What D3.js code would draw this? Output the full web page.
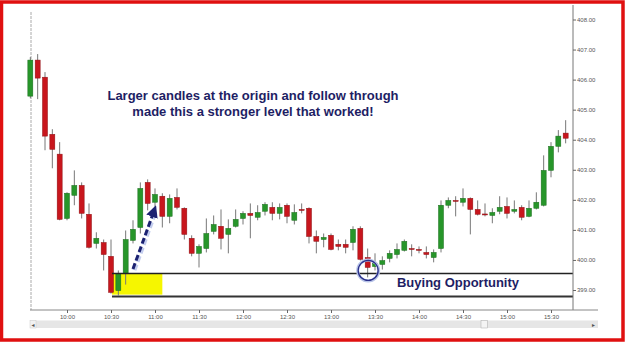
<!DOCTYPE html>
<html lang="en">
<head>
    <meta charset="UTF-8">
    <title>Buying Opportunity</title>
    <script src="https://d3js.org/d3.v7.min.js"></script>
    <style>
        body { margin: 0; background: white; }
        svg { display: block; font-family: "Liberation Sans", Arial, sans-serif; }
        .axis text { font-size: 6px; fill: #555; }
        .axis line { stroke: #666; }
        .note { font-weight: bold; font-size: 13px; fill: #1e1e64; }
    </style>
</head>
<body>
<svg id="chart" width="625" height="342"></svg>
<script>
    // 5 minute candles
    const times = ["09:35","09:40","09:45","09:50","09:55","10:00","10:05","10:10","10:15","10:20",
        "10:25","10:30","10:35","10:40","10:45","10:50","10:55","11:00","11:05","11:10",
        "11:15","11:20","11:25","11:30","11:35","11:40","11:45","11:50","11:55","12:00",
        "12:05","12:10","12:15","12:20","12:25","12:30","12:35","12:40","12:45","12:50",
        "12:55","13:00","13:05","13:10","13:15","13:20","13:25","13:30","13:35","13:40",
        "13:45","13:50","13:55","14:00","14:05","14:10","14:15","14:20","14:25","14:30",
        "14:35","14:40","14:45","14:50","14:55","15:00","15:05","15:10","15:15","15:20",
        "15:25","15:30","15:35","15:40"];
    const open = [405.45,406.65,406.08,404.18,403.52,401.38,402.15,402.48,401.52,400.55,
        400.58,400.12,398.98,399.55,400.65,401.08,402.58,401.92,402.12,401.45,
        402.08,401.72,400.72,400.22,400.38,400.95,401.12,400.85,401.12,401.38,
        401.55,401.42,401.62,401.75,401.55,401.82,401.32,401.68,401.72,400.78,
        400.68,400.82,400.52,400.52,400.58,401.05,400.08,399.78,399.85,400.05,
        400.18,400.32,400.38,400.35,400.25,400.08,400.38,401.82,401.98,401.92,
        402.05,401.68,401.53,401.48,401.62,401.78,401.62,401.75,401.45,401.72,
        401.82,402.98,403.78,404.22];
    const high = [406.75,406.85,406.25,404.35,403.92,402.25,402.98,402.58,401.88,400.92,
        400.68,400.68,399.65,400.98,401.32,402.58,402.68,402.38,402.22,402.18,
        402.38,401.75,400.82,400.52,401.38,401.48,401.68,401.35,401.68,401.62,
        401.88,401.82,401.92,401.92,401.88,401.88,401.85,401.88,401.75,400.98,
        400.88,400.88,400.68,400.68,401.12,401.12,400.38,400.22,400.12,400.32,
        400.55,400.68,400.52,400.45,400.45,400.35,401.98,402.08,402.12,402.38,
        402.08,401.98,401.88,401.72,402.12,402.08,401.98,401.82,401.98,402.25,
        403.48,403.92,404.32,404.65];
    const low = [405.38,405.35,403.65,403.05,401.32,401.32,401.82,401.38,400.38,400.38,
        399.65,398.88,398.82,399.18,400.55,400.88,401.65,401.48,401.08,401.22,
        401.68,400.68,400.12,399.75,400.25,400.85,400.35,400.22,401.08,401.18,
        400.72,401.32,401.48,401.32,401.35,401.22,401.18,401.55,400.55,400.22,
        400.42,400.32,400.32,400.22,400.32,399.98,399.42,399.65,399.68,399.92,
        400.05,400.28,400.12,400.22,400.05,399.92,400.25,401.72,401.45,401.78,
        400.85,401.48,401.45,401.22,401.52,401.38,401.55,401.32,401.42,401.68,
        401.78,402.75,403.58,403.88];
    const close = [406.65,406.05,404.12,403.68,401.35,402.22,402.48,401.55,400.42,400.72,
        400.18,398.92,399.55,400.68,401.02,402.38,401.88,402.18,401.45,402.05,
        401.75,400.85,400.22,400.45,400.88,401.18,400.72,401.05,401.35,401.55,
        401.48,401.58,401.85,401.55,401.75,401.45,401.58,401.65,400.78,400.62,
        400.75,400.35,400.45,400.42,401.02,400.02,399.75,399.88,399.98,400.22,
        400.35,400.62,400.37,400.33,400.18,400.25,401.82,401.98,401.95,402.05,
        401.68,401.52,401.52,401.58,401.75,401.55,401.68,401.42,401.72,401.92,
        402.98,403.78,404.12,404.05];

    const priceTicks = [399, 400, 401, 402, 403, 404, 405, 406, 407, 408];
    const timeTicks = ["10:00","10:30","11:00","11:30","12:00","12:30","13:00","13:30","14:00","14:30","15:00","15:30"];

    // support zone
    const zoneTop = 399.55, zoneBottom = 398.78;
    const zoneStart = "10:30", boxEnd = "11:05";
    const circleAt = "13:25";

    const parse = d3.timeParse("%H:%M");
    const data = times.map((t, i) => ({t: parse(t), o: open[i], h: high[i], l: low[i], c: close[i]}));

    const svg = d3.select("#chart");
    const x = d3.scaleTime().domain([parse("09:30"), parse("15:45")]).range([23, 573]);
    const y = d3.scaleLinear().domain([399, 408]).range([290, 19.5]);
    const right = 573, bottom = 310;

    // red frame
    svg.append("rect").attr("x", 1.5).attr("y", 2).attr("width", 621.5).attr("height", 338)
        .attr("fill", "white").attr("stroke", "#e01010").attr("stroke-width", 3.5);

    // day separator
    svg.append("line").attr("x1", 31).attr("x2", 31).attr("y1", 12).attr("y2", bottom)
        .attr("stroke", "#aaa").attr("stroke-dasharray", "3,1");

    // yellow box and level lines
    svg.append("rect")
        .attr("x", x(parse(zoneStart)) + 1).attr("y", y(zoneTop))
        .attr("width", x(parse(boxEnd)) - x(parse(zoneStart)) - 1)
        .attr("height", y(zoneBottom) - y(zoneTop) - 2)
        .attr("fill", "#f6f600");

    // candles
    const g = svg.append("g");
    const candle = g.selectAll("g").data(data).enter().append("g");
    candle.append("line")
        .attr("x1", d => x(d.t)).attr("x2", d => x(d.t))
        .attr("y1", d => y(d.h)).attr("y2", d => y(d.l))
        .attr("stroke", "#777").attr("stroke-width", 1);
    candle.append("rect")
        .attr("x", d => x(d.t) - 2.5).attr("width", 5)
        .attr("y", d => y(Math.max(d.o, d.c)))
        .attr("height", d => Math.max(1, Math.abs(y(d.o) - y(d.c))))
        .attr("fill", d => d.c >= d.o ? "#27962a" : "#c8161d")
        .attr("stroke", d => d.c >= d.o ? "#1b6e1d" : "#8e1014")
        .attr("stroke-width", 0.5);

    svg.append("line").attr("x1", x(parse(zoneStart)) + 1).attr("x2", right)
        .attr("y1", y(zoneTop)).attr("y2", y(zoneTop))
        .attr("stroke", "#222").attr("stroke-width", 1.5);
    svg.append("line").attr("x1", x(parse(zoneStart)) + 1).attr("x2", right)
        .attr("y1", y(zoneBottom)).attr("y2", y(zoneBottom))
        .attr("stroke", "#333").attr("stroke-width", 2);

    // circle on the entry candle
    const ci = times.indexOf(circleAt);
    svg.append("circle").attr("cx", x(data[ci].t) + 0.5).attr("cy", y(399.65))
        .attr("r", 10.5).attr("fill", "none").attr("stroke", "#b8c4e8").attr("stroke-width", 3);
    svg.append("circle").attr("cx", x(data[ci].t) + 0.5).attr("cy", y(399.65))
        .attr("r", 10).attr("fill", "none").attr("stroke", "#2a2f8a").attr("stroke-width", 1.3);

    // dashed arrow
    const defs = svg.append("defs");
    defs.append("marker").attr("id", "head").attr("viewBox", "0 0 10 10")
        .attr("refX", 5).attr("refY", 5).attr("markerWidth", 4).attr("markerHeight", 4)
        .attr("orient", "auto-start-reverse")
        .append("path").attr("d", "M0,0L10,5L0,10z").attr("fill", "#1c2272");
    svg.append("line").attr("x1", 134).attr("y1", 270).attr("x2", 155).attr("y2", 212)
        .attr("stroke", "#c3cdee").attr("stroke-width", 5).attr("stroke-dasharray", "6,3");
    svg.append("line").attr("x1", 133).attr("y1", 269).attr("x2", 154).attr("y2", 211)
        .attr("stroke", "#1c2272").attr("stroke-width", 3).attr("stroke-dasharray", "6,3")
        .attr("marker-end", "url(#head)");

    // axes
    svg.append("line").attr("x1", right).attr("x2", right).attr("y1", 5).attr("y2", bottom)
        .attr("stroke", "#777");
    svg.append("line").attr("x1", 30).attr("x2", 598).attr("y1", bottom).attr("y2", bottom)
        .attr("stroke", "#888");

    svg.append("g").attr("class", "axis")
        .attr("transform", `translate(${right},0)`)
        .call(d3.axisRight(y).tickValues(priceTicks).tickFormat(d3.format(".2f")).tickSize(3).tickPadding(1))
        .call(a => a.select(".domain").remove());

    svg.append("g").attr("class", "axis")
        .attr("transform", `translate(0,${bottom})`)
        .call(d3.axisBottom(x).tickValues(timeTicks.map(parse)).tickFormat(d3.timeFormat("%H:%M")).tickSize(3).tickPadding(2))
        .call(a => a.select(".domain").remove());

    // scrollbar
    svg.append("rect").attr("x", 30).attr("y", 320.5).attr("width", 568).attr("height", 7.5).attr("fill", "#e6e6e6");
    svg.append("rect").attr("x", 30).attr("y", 320.5).attr("width", 6).attr("height", 7.5)
        .attr("fill", "#f2f2f2").attr("stroke", "#ccc").attr("stroke-width", 0.5);
    svg.append("text").attr("x", 33).attr("y", 326.5).attr("text-anchor", "middle")
        .attr("font-size", 5).attr("fill", "#555").text("◄");
    svg.append("rect").attr("x", 481).attr("y", 320.5).attr("width", 6.5).attr("height", 7.5)
        .attr("fill", "#f4f4f4").attr("stroke", "#aaa").attr("stroke-width", 0.5);
    svg.append("text").attr("x", 593.5).attr("y", 326.5).attr("text-anchor", "middle")
        .attr("font-size", 5).attr("fill", "#555").text("►");

    // annotations
    svg.append("text").attr("class", "note").attr("x", 253).attr("y", 99.5)
        .attr("text-anchor", "middle").text("Larger candles at the origin and follow through");
    svg.append("text").attr("class", "note").attr("x", 253).attr("y", 115.5)
        .attr("text-anchor", "middle").text("made this a stronger level that worked!");
    svg.append("text").attr("class", "note").attr("x", 458).attr("y", 286.5)
        .attr("text-anchor", "middle").text("Buying Opportunity");
</script>
</body>
</html>
